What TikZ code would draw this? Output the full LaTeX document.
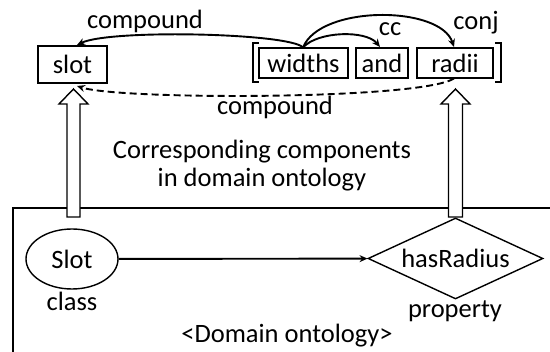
\documentclass[tikz,border=0pt]{standalone}
\usepackage{fontspec}
\setmainfont{Carlito}
\usetikzlibrary{arrows.meta,shapes.geometric}
\begin{document}
\begin{tikzpicture}[x=1pt,y=-1pt,
  font=\fontsize{26.5}{28}\selectfont,
  wordbox/.style={draw,line width=1.4pt,inner sep=0pt,minimum height=30pt},
  lbl/.style={inner sep=0pt},
  dep/.style={line width=1.9pt,-{Stealth[length=8pt,width=7pt]}},
  hollow/.style={draw,line width=1.4pt,fill=white,line join=miter}]
\useasboundingbox (0,0) rectangle (550,352);
% domain ontology frame (right and bottom edges lie outside the picture)
\draw[line width=1.4pt] (560,208) -- (13,208) -- (13,360);
% sentence words
\node[wordbox,minimum width=69pt,minimum height=37pt] (slot) at (72.5,64.5) {slot};
\node[wordbox,minimum width=89pt] (widths) at (303.5,63) {widths};
\node[wordbox,minimum width=52pt] (and) at (382,63) {and};
\node[wordbox,minimum width=76pt] (radii) at (455,63) {radii};
% brackets
\draw[line width=2pt] (259,43) -- (253,43) -- (253,82) -- (259,82);
\draw[line width=2pt] (495,43) -- (501,43) -- (501,82) -- (495,82);
% dependency arcs
\coordinate (wtop) at (303,47.5);
\draw[dep] (wtop) .. controls (290,33) and (110,29) .. (77,45);
\draw[dep] (wtop) .. controls (318,31) and (366,30) .. (380,47);
\draw[dep] (wtop) .. controls (320,5) and (440,5) .. (454,47);
\draw[dep,dashed,dash pattern=on 7pt off 4pt] (454,78.5) .. controls (420,100) and (120,100) .. (77,86);
\node[lbl] (lcomp1) at (145,21) {compound};
\node[lbl] (lcc) at (390,29) {cc};
\node[lbl] (lconj) at (476,23) {conj};
\node[lbl] (lcomp2) at (275,107) {compound};
% caption
\node[lbl,align=center] (cap) at (262,166) {Corresponding components\\in domain ontology};
% ontology elements
\node[draw,ellipse,line width=1.4pt,minimum width=92pt,minimum height=60pt,inner sep=0pt] (Slot) at (72,259) {Slot};
\node[draw,diamond,line width=1.4pt,minimum width=175pt,minimum height=81pt,inner sep=0pt,aspect=2.16] (has) at (455.5,258.5) {hasRadius};
\node[lbl] (lclass) at (72,301) {class};
\node[lbl] (lprop) at (455,311) {property};
\node[lbl] (ldom) at (287,336) {<Domain ontology>};
\draw[line width=1.9pt,-{Stealth[length=8pt,width=7pt]}] (Slot) -- (has);
% hollow correspondence arrows
\draw[hollow] (67,217) -- (67,104) -- (59,104) -- (73.5,89) -- (88,104) -- (80,104) -- (80,217) -- cycle;
\draw[hollow] (448.5,217) -- (448.5,104) -- (441,104) -- (455.5,89) -- (470,104) -- (462.5,104) -- (462.5,217) -- cycle;
\end{tikzpicture}
\end{document}
